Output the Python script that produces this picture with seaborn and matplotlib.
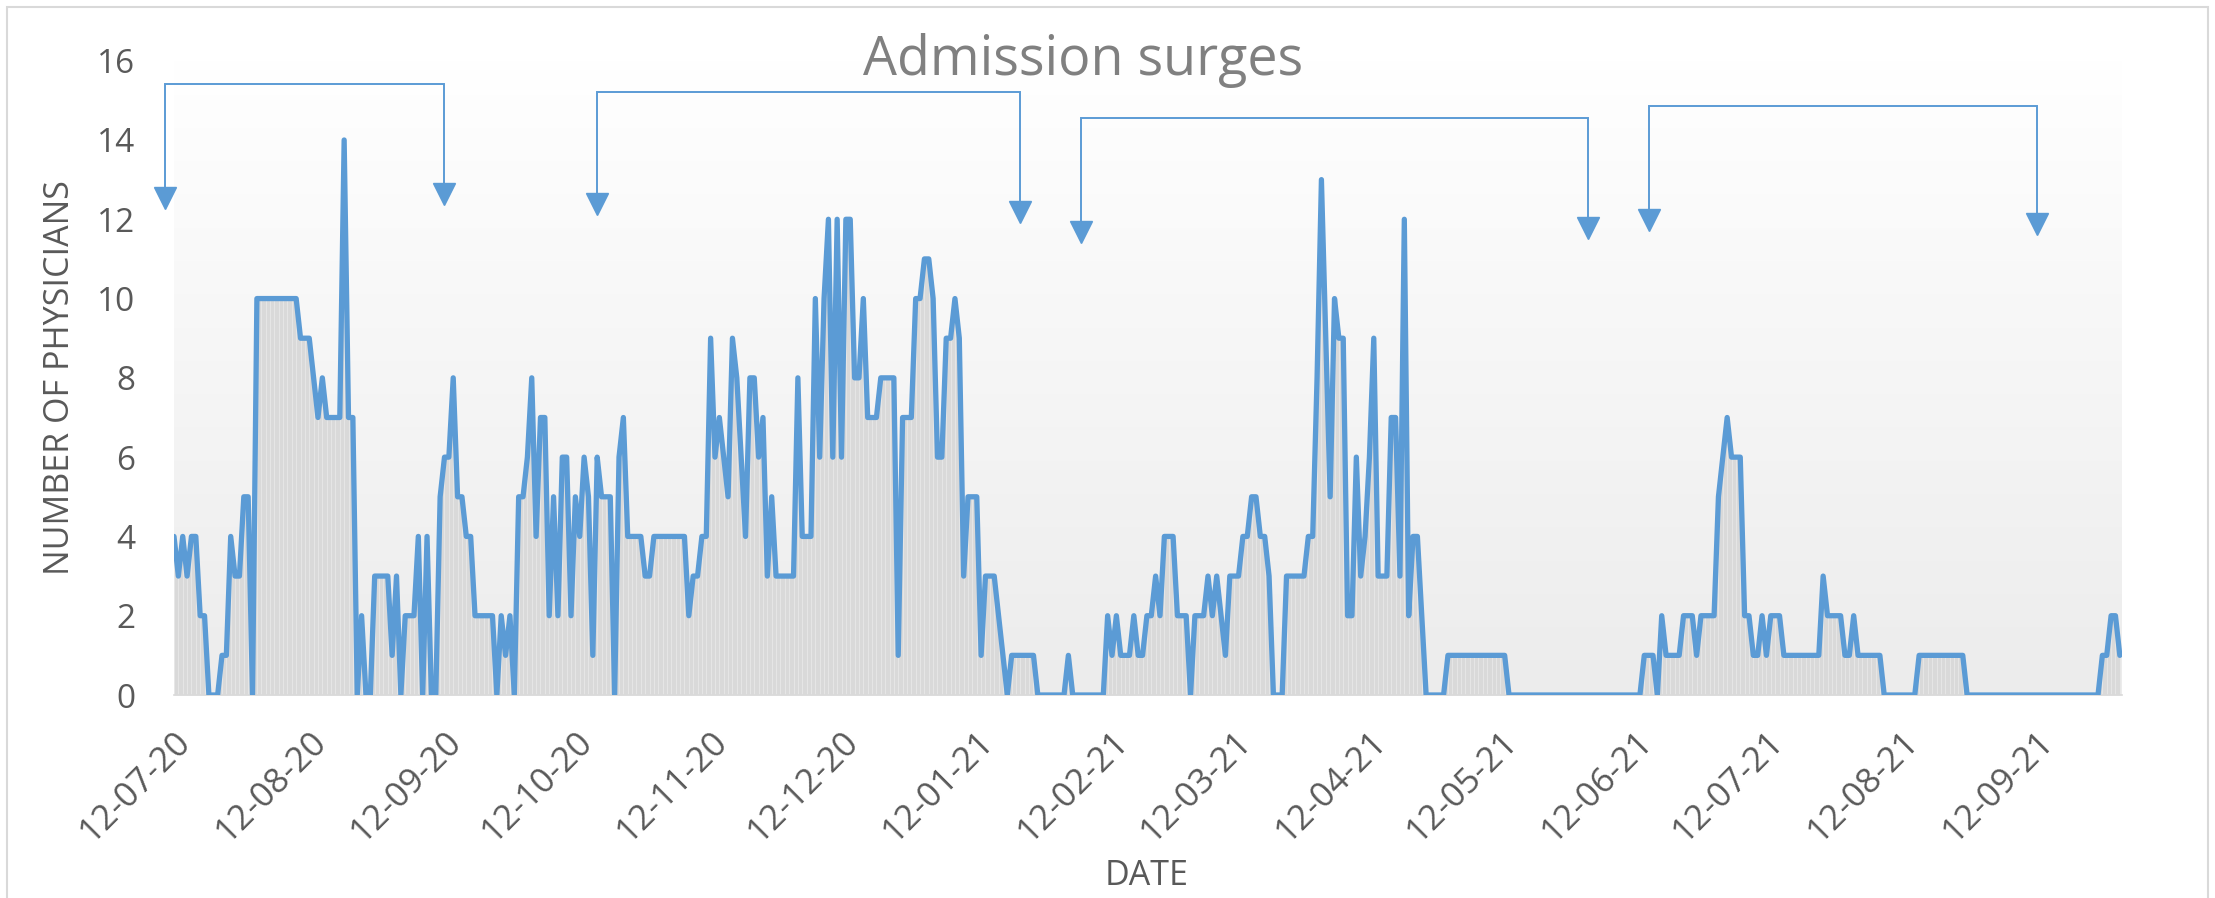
import numpy as np
import pandas as pd
import matplotlib
matplotlib.use("Agg")
import matplotlib.pyplot as plt
import matplotlib.dates as mdates
from matplotlib.patches import Rectangle
from matplotlib.colors import LinearSegmentedColormap
import seaborn as sns

# ---------------- data ----------------
START_DATE = "2020-07-12"
PHYSICIANS = [
    4, 3, 4, 3, 4, 4, 2, 2, 0, 0,
    0, 1, 1, 4, 3, 3, 5, 5, 0, 10,
    10, 10, 10, 10, 10, 10, 10, 10, 10, 9,
    9, 9, 8, 7, 8, 7, 7, 7, 7, 14,
    7, 7, 0, 2, 0, 0, 3, 3, 3, 3,
    1, 3, 0, 2, 2, 2, 4, 0, 4, 0,
    0, 5, 6, 6, 8, 5, 5, 4, 4, 2,
    2, 2, 2, 2, 0, 2, 1, 2, 0, 5,
    5, 6, 8, 4, 7, 7, 2, 5, 2, 6,
    6, 2, 5, 4, 6, 5, 1, 6, 5, 5,
    5, 0, 6, 7, 4, 4, 4, 4, 3, 3,
    4, 4, 4, 4, 4, 4, 4, 4, 2, 3,
    3, 4, 4, 9, 6, 7, 6, 5, 9, 8,
    6, 4, 8, 8, 6, 7, 3, 5, 3, 3,
    3, 3, 3, 8, 4, 4, 4, 10, 6, 10,
    12, 6, 12, 6, 12, 12, 8, 8, 10, 7,
    7, 7, 8, 8, 8, 8, 1, 7, 7, 7,
    10, 10, 11, 11, 10, 6, 6, 9, 9, 10,
    9, 3, 5, 5, 5, 1, 3, 3, 3, 2,
    1, 0, 1, 1, 1, 1, 1, 1, 0, 0,
    0, 0, 0, 0, 0, 1, 0, 0, 0, 0,
    0, 0, 0, 0, 2, 1, 2, 1, 1, 1,
    2, 1, 1, 2, 2, 3, 2, 4, 4, 4,
    2, 2, 2, 0, 2, 2, 2, 3, 2, 3,
    2, 1, 3, 3, 3, 4, 4, 5, 5, 4,
    4, 3, 0, 0, 0, 3, 3, 3, 3, 3,
    4, 4, 8, 13, 9, 5, 10, 9, 9, 2,
    2, 6, 3, 4, 6, 9, 3, 3, 3, 7,
    7, 3, 12, 2, 4, 4, 2, 0, 0, 0,
    0, 0, 1, 1, 1, 1, 1, 1, 1, 1,
    1, 1, 1, 1, 1, 1, 0, 0, 0, 0,
    0, 0, 0, 0, 0, 0, 0, 0, 0, 0,
    0, 0, 0, 0, 0, 0, 0, 0, 0, 0,
    0, 0, 0, 0, 0, 0, 0, 1, 1, 1,
    0, 2, 1, 1, 1, 1, 2, 2, 2, 1,
    2, 2, 2, 2, 5, 6, 7, 6, 6, 6,
    2, 2, 1, 1, 2, 1, 2, 2, 2, 1,
    1, 1, 1, 1, 1, 1, 1, 1, 3, 2,
    2, 2, 2, 1, 1, 2, 1, 1, 1, 1,
    1, 1, 0, 0, 0, 0, 0, 0, 0, 0,
    1, 1, 1, 1, 1, 1, 1, 1, 1, 1,
    1, 0, 0, 0, 0, 0, 0, 0, 0, 0,
    0, 0, 0, 0, 0, 0, 0, 0, 0, 0,
    0, 0, 0, 0, 0, 0, 0, 0, 0, 0,
    0, 0, 1, 1, 2, 2, 1,
]
TICK_LABELS = ["12-07-20", "12-08-20", "12-09-20", "12-10-20", "12-11-20",
               "12-12-20", "12-01-21", "12-02-21", "12-03-21", "12-04-21",
               "12-05-21", "12-06-21", "12-07-21", "12-08-21", "12-09-21"]
Y_TICKS = [0, 2, 4, 6, 8, 10, 12, 14, 16]
SURGE_START = ["2020-07-10", "2020-10-17", "2021-02-05", "2021-06-15"]
SURGE_END = ["2020-09-12", "2021-01-22", "2021-06-01", "2021-09-12"]
TITLE = "Admission surges"
X_LABEL = "DATE"
Y_LABEL = "NUMBER OF PHYSICIANS"

# ---------------- figure ----------------
dates = pd.date_range(START_DATE, periods=len(PHYSICIANS), freq="D")
df = pd.DataFrame({"date": dates, "physicians": PHYSICIANS})

sns.set_style("white")
plt.rcParams["font.family"] = ["Open Sans", "DejaVu Sans"]

W, H = 2215, 898
fig = plt.figure(figsize=(W / 100, H / 100), dpi=100)
pos = [174 / W, 1 - 695 / H, (2122 - 174) / W, (695 - 60.7) / H]

# gradient plot-area background
bg = fig.add_axes(pos, zorder=0)
grad = np.linspace(0, 1, 256).reshape(-1, 1)
cmap = LinearSegmentedColormap.from_list("g", ["#ececec", "#ffffff"])
bg.imshow(grad, extent=[0, 1, 0, 1], cmap=cmap, aspect="auto", origin="lower")
bg.set_axis_off()

ax = fig.add_axes(pos, zorder=1)
ax.set_facecolor("none")

LINE_COLOR = "#5b9bd5"
ax.fill_between(df["date"], 0, df["physicians"], color="#d9d9d9", lw=0, zorder=1)
ax.vlines(df["date"], 0, df["physicians"], color="#e8e8e8", lw=0.6, zorder=1.5)
sns.lineplot(data=df, x="date", y="physicians", ax=ax, color=LINE_COLOR,
             lw=3.8, zorder=3)

x0 = mdates.date2num(dates[0])
ax.set_xlim(x0, x0 + 446.5)
ax.set_ylim(0, 16)
ax.set_yticks(Y_TICKS)
tick_dates = pd.to_datetime(TICK_LABELS, format="%d-%m-%y")
ax.set_xticks(tick_dates)
ax.set_xticklabels(TICK_LABELS, rotation=45, ha="right", va="top",
                   rotation_mode="anchor")
ax.set_xlabel("")
ax.set_ylabel("")
for s in ["left", "right", "top"]:
    ax.spines[s].set_visible(False)
ax.spines["bottom"].set_color("#d9d9d9")
ax.spines["bottom"].set_linewidth(1.2)
ax.tick_params(axis="y", length=0, pad=28, labelsize=24, labelcolor="#595959")
ax.tick_params(axis="x", length=7, width=1.2, color="#d9d9d9", pad=14,
               labelsize=25, labelcolor="#595959", direction="out")
ax.grid(False)

# surge brackets
tops = [15.4, 15.2, 14.55, 14.85]
tips = [(12.25, 12.35), (12.1, 11.9), (11.4, 11.5), (11.7, 11.6)]
for s, e, top, (tl, tr) in zip(SURGE_START, SURGE_END, tops, tips):
    xl, xr = pd.Timestamp(s), pd.Timestamp(e)
    ax.plot([xl, xl, xr, xr], [tl + 0.4, top, top, tr + 0.4], color=LINE_COLOR,
            lw=1.4, clip_on=False, zorder=4, solid_joinstyle="miter")
    ax.plot([xl, xr], [tl + 0.29, tr + 0.29], linestyle="none", marker="v",
            ms=16, color=LINE_COLOR, mec=LINE_COLOR, clip_on=False, zorder=4)

# texts
fig.text(1083 / W, 1 - 75 / H, TITLE, ha="center", va="baseline",
         fontsize=38.7, color="#808080")
fig.text(1147 / W, 1 - 885 / H, X_LABEL, ha="center", va="baseline",
         fontsize=24.5, color="#595959")
fig.text(60 / W, 1 - 378 / H, Y_LABEL, ha="center", va="center",
         rotation=90, fontsize=24.5, color="#595959")

# chart border
fig.add_artist(Rectangle((7 / W, -0.02), (2208 - 7) / W, 1 - 7 / H + 0.02,
                         transform=fig.transFigure, fill=False,
                         ec="#d9d9d9", lw=1.5))

fig.savefig("out.png", dpi=100)
